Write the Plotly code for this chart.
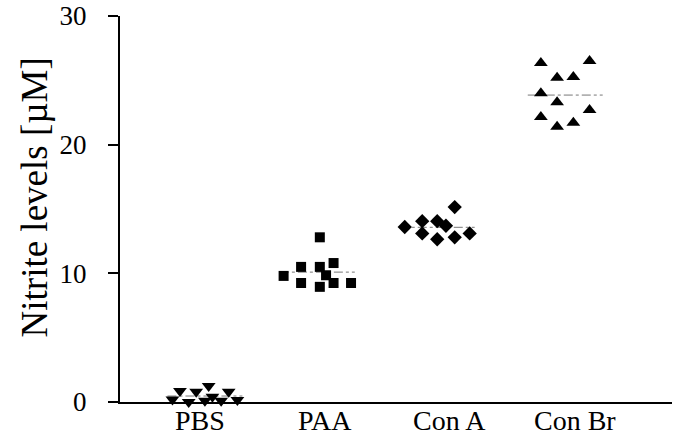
import numpy as np
import plotly.graph_objects as go

categories = ["PBS", "PAA", "Con A", "Con Br"]

pbs_values = [0.2, 0.85, 0.0, 0.8, 0.1, 1.25, 0.4, 0.1, 0.8, 0.15]
paa_values = [12.8, 9.8, 10.5, 9.25, 10.5, 8.95, 9.85, 10.8, 9.25, 9.25]
cona_values = [13.6, 14.05, 13.1, 14.05, 12.65, 13.7, 15.15, 12.8, 13.1]
conbr_values = [26.35, 24.0, 22.15, 25.2, 23.3, 21.4, 25.25, 21.7, 26.5, 22.7]

# horizontal dot placement within each group (category units)
pbs_jitter = [-0.22, -0.16, -0.09, -0.03, 0.04, 0.07, 0.10, 0.17, 0.23, 0.30]
paa_jitter = [-0.04, -0.33, -0.19, -0.19, -0.04, -0.04, 0.01, 0.07, 0.07, 0.21]
cona_jitter = [-0.36, -0.22, -0.22, -0.10, -0.10, -0.03, 0.04, 0.04, 0.16]
conbr_jitter = [-0.27, -0.27, -0.27, -0.14, -0.14, -0.14, -0.01, -0.01, 0.12, 0.12]

y_ticks = [0, 10, 20, 30]

groups = [
    (pbs_values, pbs_jitter, "triangle-down", 12),
    (paa_values, paa_jitter, "square", 10),
    (cona_values, cona_jitter, "diamond", 11),
    (conbr_values, conbr_jitter, "triangle-up", 12),
]

FONT = "Liberation Serif, Times New Roman, serif"

fig = go.Figure()
for i, (vals, jit, sym, sz) in enumerate(groups):
    xs = [i + j for j in jit]
    ctr = i + (min(jit) + max(jit)) / 2
    m = float(np.mean(vals))
    fig.add_trace(go.Scatter(
        x=[ctr - 0.3, ctr + 0.3], y=[m, m], mode="lines",
        line=dict(color="#777777", width=1, dash="dashdot"),
        showlegend=False, hoverinfo="skip", cliponaxis=False))
    fig.add_trace(go.Scatter(
        x=xs, y=vals, mode="markers",
        marker=dict(symbol=sym, size=sz, color="black", line=dict(width=0)),
        showlegend=False, cliponaxis=False))

annotations = [dict(
    text=c, x=i, y=0, xref="x", yref="y", xanchor="center", yanchor="top",
    yshift=-2, showarrow=False, borderpad=0,
    font=dict(family=FONT, size=28, color="black"),
) for i, c in enumerate(categories)]

annotations.append(dict(
    text="Nitrite levels [µM]", textangle=-90, showarrow=False,
    xref="paper", yref="paper", x=-0.155, y=0.531, xanchor="center", yanchor="middle",
    font=dict(family=FONT, size=37, color="black"),
))

fig.update_layout(
    width=677, height=438,
    margin=dict(l=120, r=5, t=16, b=36, autoexpand=False),
    paper_bgcolor="white", plot_bgcolor="white",
    font=dict(family=FONT, size=28, color="black"),
    xaxis=dict(
        range=[-0.64, 3.78], showticklabels=False, automargin=False,
        showgrid=False, zeroline=False, showline=True,
        linecolor="black", linewidth=2, ticks="",
    ),
    yaxis=dict(
        range=[0, 30], tickmode="array", tickvals=y_ticks, automargin=False,
        showgrid=False, zeroline=False, showline=True, linecolor="black",
        linewidth=2, ticks="outside", ticklen=10, tickwidth=2, tickcolor="black",
        ticklabelstandoff=16, ticklabeloverflow="allow",
        tickfont=dict(family=FONT, size=27, color="black"),
    ),
    annotations=annotations,
)

# remove the browser's default 8px body margin so the figure fills the window
fig.write_html(
    "out.html",
    config={"displayModeBar": False},
    post_script="document.body.style.margin='0';document.body.style.overflow='hidden';",
)
